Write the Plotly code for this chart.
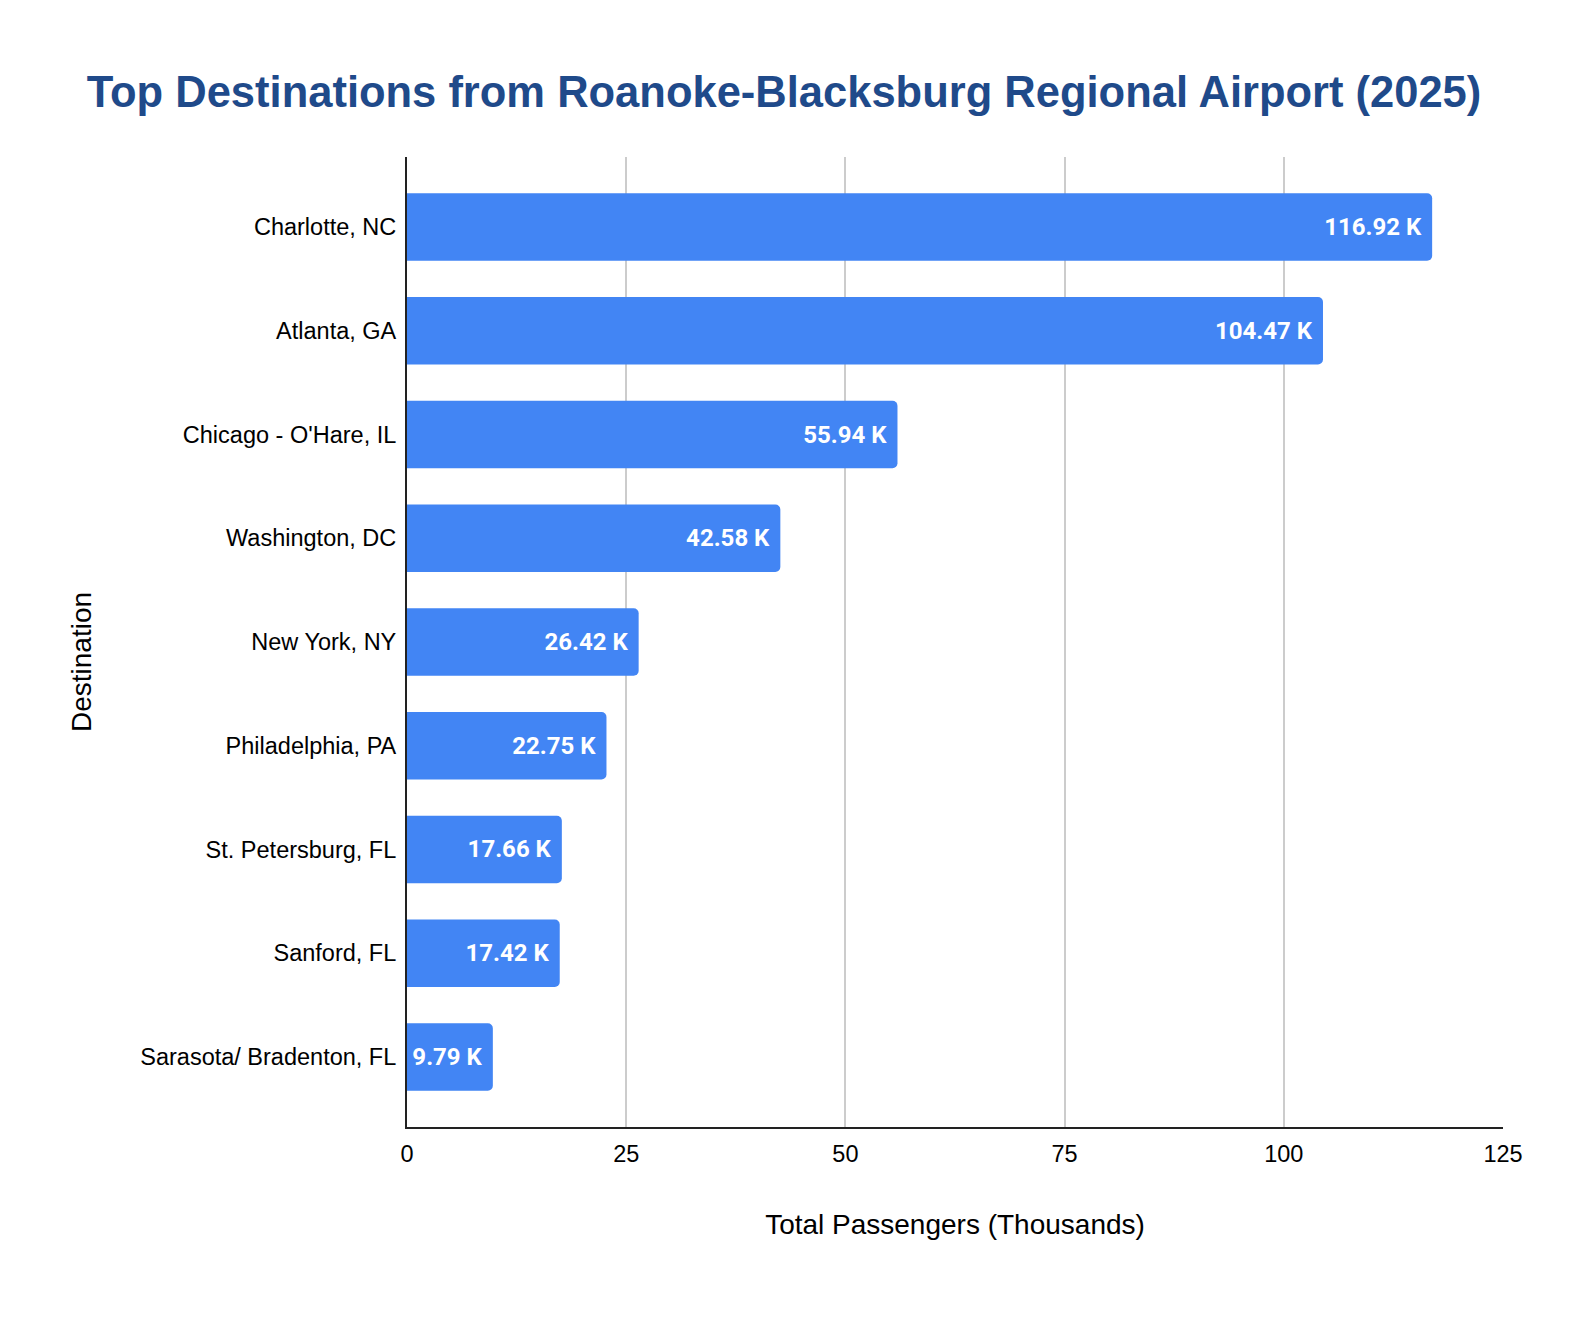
import plotly.graph_objects as go

# Data (passengers in thousands)
destinations = ['Charlotte, NC', 'Atlanta, GA', "Chicago - O'Hare, IL", 'Washington, DC',
                'New York, NY', 'Philadelphia, PA', 'St. Petersburg, FL', 'Sanford, FL',
                'Sarasota/ Bradenton, FL']
passengers = [116.92, 104.47, 55.94, 42.58, 26.42, 22.75, 17.66, 17.42, 9.79]
bar_labels = [f'{v:.2f} K&nbsp;' for v in passengers]
x_ticks = [0, 25, 50, 75, 100, 125]

fig = go.Figure()
fig.add_trace(go.Bar(
    x=passengers,
    y=destinations,
    orientation='h',
    marker=dict(color='#4285F4', cornerradius=5, line=dict(width=0)),
    text=bar_labels,
    textposition='inside',
    insidetextanchor='end',
    textfont=dict(family='Roboto', size=24, color='white', weight='bold'),
    textangle=0,
    cliponaxis=False,
    width=0.65,
))

# page body adds 8px margin on each side, so the figure is 16px smaller than the window
fig.update_layout(
    width=1568,
    height=1302,
    paper_bgcolor='white',
    plot_bgcolor='white',
    margin=dict(l=399, r=73, t=149, b=183),
    showlegend=False,
    title=dict(
        text='<b>Top Destinations from Roanoke-Blacksburg Regional Airport (2025)</b>',
        x=0.4949, xanchor='center', y=0.936, yanchor='middle',
        font=dict(family='Liberation Sans, Arial', size=43.5, color='#1F4A8A'),
    ),
    font=dict(family='Liberation Sans, Arial', color='black'),
    xaxis=dict(
        range=[0, 125],
        tickvals=x_ticks,
        showgrid=True, gridcolor='#CCCCCC', gridwidth=2,
        showline=True, linecolor='#222222', linewidth=2,
        zeroline=False,
        ticks='outside', ticklen=5, tickcolor='rgba(0,0,0,0)',
        tickfont=dict(size=23.5, color='black'),
        title=dict(text='Total Passengers (Thousands)', font=dict(size=28, color='black'), standoff=48),
    ),
    yaxis=dict(
        categoryorder='array', categoryarray=destinations[::-1],
        range=[-0.675, 8.675],
        showgrid=False,
        showline=True, linecolor='#222222', linewidth=2,
        ticks='outside', ticklen=4, tickcolor='rgba(0,0,0,0)',
        tickfont=dict(size=23.5, color='black'),
    ),
)

# y axis title sits a little below the middle of the axis
fig.add_annotation(
    text='Destination', xref='paper', yref='paper',
    x=-0.2965, y=0.4794, xanchor='center', yanchor='middle',
    textangle=-90, showarrow=False,
    font=dict(family='Liberation Sans, Arial', size=28, color='black'),
)

fig.write_html('out.html')
